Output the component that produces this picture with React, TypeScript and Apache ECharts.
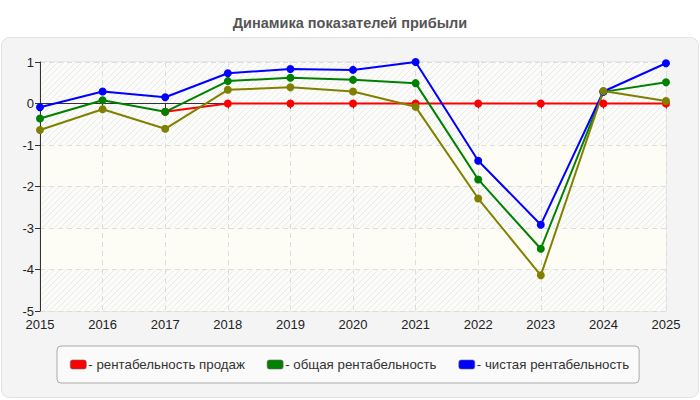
import React, { useEffect, useRef } from "react";
import * as echarts from "echarts";

const years = ["2015", "2016", "2017", "2018", "2019", "2020", "2021", "2022", "2023", "2024", "2025"];

const salesMargin = [null, null, -0.2, 0, 0, 0, 0, 0, 0, 0, 0];
const totalMargin = [-0.36, 0.08, -0.2, 0.54, 0.62, 0.57, 0.49, -1.83, -3.5, 0.28, 0.51];
const netMargin = [-0.09, 0.29, 0.15, 0.73, 0.83, 0.81, 1.0, -1.38, -2.92, 0.29, 0.97];
const extraSeries = [-0.64, -0.14, -0.61, 0.33, 0.39, 0.29, -0.08, -2.29, -4.14, 0.3, 0.06];

const seriesNames = ["рентабельность продаж", "общая рентабельность", "чистая рентабельность"];
const seriesColors = ["#ff0000", "#008000", "#0000ff", "#808000"];

function makeHatch(): HTMLCanvasElement {
  const c = document.createElement("canvas");
  c.width = 6;
  c.height = 6;
  const ctx = c.getContext("2d")!;
  ctx.fillStyle = "#fbfbf9";
  ctx.fillRect(0, 0, 6, 6);
  ctx.strokeStyle = "#ebebe8";
  ctx.lineWidth = 1;
  ctx.beginPath();
  for (let k = -6; k <= 12; k += 6) {
    ctx.moveTo(k, 6);
    ctx.lineTo(k + 6, 0);
  }
  ctx.stroke();
  return c;
}

export default function App() {
  const ref = useRef<HTMLDivElement>(null);

  useEffect(() => {
    if (!ref.current) return;
    const chart = echarts.init(ref.current, undefined, { renderer: "svg" });
    const hatch = { image: makeHatch(), repeat: "repeat" } as any;
    const plain = "#fdfdf5";

    const mk = (name: string, data: (number | null)[], color: string) => ({
      name,
      type: "line",
      data,
      symbol: "circle",
      symbolSize: 8,
      showSymbol: true,
      connectNulls: false,
      lineStyle: { width: 2, color },
      itemStyle: { color },
      emphasis: { disabled: true },
    });

    chart.setOption({
      animation: false,
      textStyle: { fontFamily: "Liberation Sans, Arial, sans-serif" },
      title: {
        text: "Динамика показателей прибыли",
        left: "center",
        top: 10,
        textStyle: { fontSize: 14.5, fontWeight: "bold", color: "#555555" },
      },
      graphic: [
        {
          type: "rect",
          z: -10,
          shape: { x: 1.5, y: 37.5, width: 697, height: 360, r: 8 },
          style: { fill: "#f4f4f4", stroke: "#e2e2e2", lineWidth: 1 },
        },
      ],
      legend: {
        data: seriesNames,
        bottom: 17,
        left: 57,
        itemGap: 22,
        itemWidth: 16,
        itemHeight: 9,
        backgroundColor: "#fafafa",
        borderColor: "#aaaaaa",
        borderWidth: 1,
        borderRadius: 4,
        padding: [12, 10, 12, 13],
        icon: "roundRect",
        formatter: "- {name}",
        textStyle: { fontSize: 13.3, color: "#333333", padding: [0, 0, 0, -3] },
        itemStyle: { borderColor: "#666", borderWidth: 0.6 },
      },
      grid: {
        left: 40,
        right: 34,
        top: 62,
        bottom: 89,
        show: true,
        borderColor: "#dddddd",
        borderWidth: 1,
        backgroundColor: "transparent",
      },
      xAxis: {
        type: "category",
        data: years,
        boundaryGap: false,
        axisLine: { lineStyle: { color: "#333333", width: 1 } },
        axisTick: { show: true, length: 5, lineStyle: { color: "#333333" } },
        axisLabel: { color: "#222222", fontSize: 13, margin: 7 },
        splitLine: { show: true, lineStyle: { color: "#dddddd", type: [5, 4] } },
      },
      yAxis: {
        type: "value",
        min: -5,
        max: 1,
        interval: 1,
        axisLine: { show: true, lineStyle: { color: "#333333", width: 1 } },
        axisTick: { show: true, length: 5, lineStyle: { color: "#333333" } },
        axisLabel: { color: "#222222", fontSize: 13, margin: 6 },
        splitLine: { show: true, lineStyle: { color: "#dddddd", type: [5, 4] } },
        splitArea: {
          show: true,
          areaStyle: { color: [hatch, plain, hatch, plain, hatch, hatch] },
        },
      },
      series: [
        mk(seriesNames[0], salesMargin, seriesColors[0]),
        mk(seriesNames[1], totalMargin, seriesColors[1]),
        mk(seriesNames[2], netMargin, seriesColors[2]),
        mk("", extraSeries, seriesColors[3]),
      ],
    });

    return () => chart.dispose();
  }, []);

  return <div ref={ref} style={{ width: 700, height: 400, position: "absolute", left: 0, top: 0 }} />;
}
